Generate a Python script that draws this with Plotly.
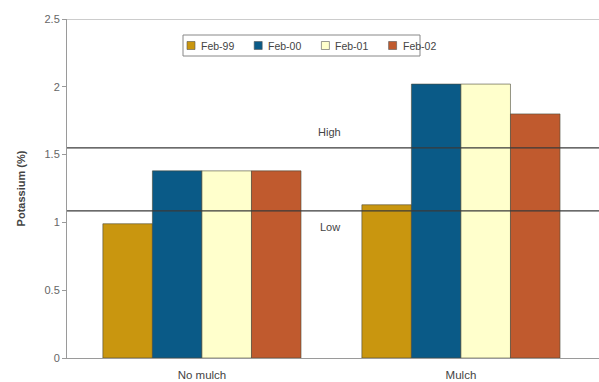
import plotly.graph_objects as go

categories = ["No mulch", "Mulch"]
series_names = ["Feb-99", "Feb-00", "Feb-01", "Feb-02"]
series_values = [
    [0.99, 1.13],
    [1.38, 2.02],
    [1.38, 2.02],
    [1.38, 1.80],
]
series_colors = ["#C9960F", "#0A5A87", "#FFFFCC", "#C05A2E"]
high_level = 1.55
low_level = 1.085
y_ticks = [0, 0.5, 1, 1.5, 2, 2.5]
y_tick_text = ["0", "0.5", "1", "1.5", "2", "2.5"]

W, H = 599, 382
M = dict(l=67, r=0, t=19, b=24)
PW, PH = W - M["l"] - M["r"], H - M["t"] - M["b"]


def px_x(p):
    return (p - M["l"]) / PW


def px_y(p):
    return (H - M["b"] - p) / PH


fig = go.Figure()
for name, vals, col in zip(series_names, series_values, series_colors):
    fig.add_trace(go.Bar(
        x=categories, y=vals, name=name,
        marker=dict(color=col, line=dict(color="#4a4a3a", width=0.6)),
    ))

# reference lines for sufficiency thresholds
for lvl in (high_level, low_level):
    fig.add_shape(type="line", xref="paper", x0=0, x1=1, yref="y", y0=lvl, y1=lvl,
                  line=dict(color="#3a3a3a", width=1.2))
# top border of plot area
fig.add_shape(type="line", xref="paper", x0=0, x1=1, yref="y", y0=2.5, y1=2.5,
              line=dict(color="#9a9a9a", width=1))

fig.add_annotation(x=0.494, y=high_level, xref="x", yref="y", text="High",
                   showarrow=False, yshift=16, font=dict(size=11, color="#444"))
fig.add_annotation(x=0.494, y=low_level, xref="x", yref="y", text="Low",
                   showarrow=False, yshift=-16, font=dict(size=11, color="#444"))

# compact boxed legend: small swatch followed by the series label
fig.add_shape(type="rect", xref="paper", yref="paper",
              x0=px_x(183), x1=px_x(420), y0=px_y(56), y1=px_y(35),
              line=dict(color="#888", width=1), fillcolor="white", layer="above")
leg_mid = 45.5
for i, (name, col) in enumerate(zip(series_names, series_colors)):
    cx = 191 + 67.2 * i
    fig.add_shape(type="rect", xref="paper", yref="paper",
                  x0=px_x(cx - 4), x1=px_x(cx + 4),
                  y0=px_y(leg_mid + 4), y1=px_y(leg_mid - 4),
                  line=dict(color="#555", width=0.6), fillcolor=col, layer="above")
    fig.add_annotation(x=px_x(cx + 8), y=px_y(leg_mid), xref="paper", yref="paper",
                       text=name, showarrow=False, xanchor="left", yanchor="middle",
                       font=dict(size=10.5, color="#444"))

fig.update_layout(
    width=W, height=H,
    margin=M,
    paper_bgcolor="white", plot_bgcolor="white",
    barmode="group", bargap=0.235, bargroupgap=0,
    font=dict(family="Liberation Sans, Arial, sans-serif", size=10, color="#555"),
    showlegend=False,
    xaxis=dict(
        range=[-0.521, 1.533], showgrid=False, showline=True, linecolor="#9a9a9a",
        linewidth=1, ticks="", tickfont=dict(size=11.5, color="#444"),
        ticklabelstandoff=6,
    ),
    yaxis=dict(
        range=[0, 2.5], tickvals=y_ticks, ticktext=y_tick_text, showgrid=False,
        showline=True, linecolor="#9a9a9a", linewidth=1, ticks="outside",
        ticklen=4, tickcolor="#9a9a9a", tickfont=dict(size=11, color="#666"),
        zeroline=False,
        title=dict(text="<b>Potassium (%)</b>", font=dict(size=11, color="#444"),
                   standoff=16),
    ),
)

fig.write_html("out.html")
